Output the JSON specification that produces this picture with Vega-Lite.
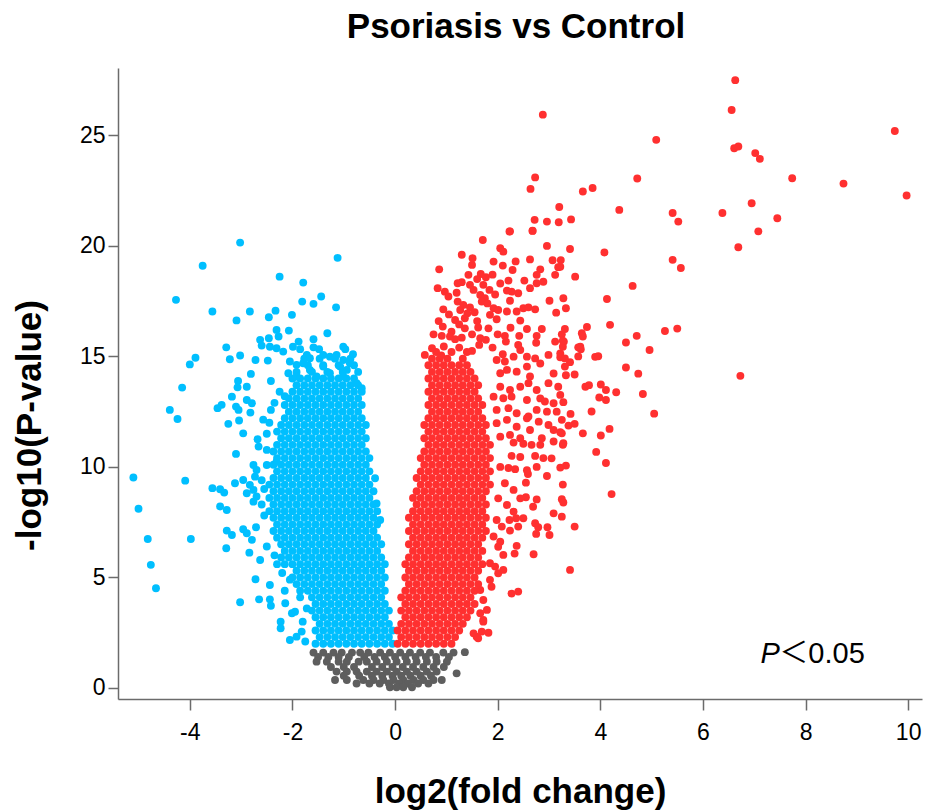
{
"$schema":"https://vega.github.io/schema/vega-lite/v6.json",
"width":804,"height":631,
"autosize":{"type":"none"},
"padding":{"left":118,"top":68,"right":4,"bottom":111},
"background":"white",
"config":{"view":{"stroke":null},"font":"Liberation Sans"},
"title":{"text":"Psoriasis vs Control","fontSize":35,"font":"Liberation Sans","fontWeight":"bold","color":"#000000","anchor":"middle","offset":23,"dx":-4},
"datasets":{
"ns":[
{"x":-1.59,"y":1.6},{"x":-1.4,"y":1.6},{"x":-1.2,"y":1.6},{"x":-1.04,"y":1.6},{"x":-0.84,"y":1.6},{"x":-0.68,"y":1.6},{"x":-0.52,"y":1.6},{"x":-0.29,"y":1.6},{"x":-0.1,"y":1.6},{"x":0.1,"y":1.6},{"x":0.29,"y":1.6},{"x":0.49,"y":1.6},{"x":0.68,"y":1.6},{"x":0.94,"y":1.6},{"x":1.14,"y":1.6},{"x":1.36,"y":1.62},
{"x":-1.5,"y":1.4},{"x":-1.3,"y":1.4},{"x":-1.1,"y":1.4},{"x":-0.9,"y":1.4},{"x":-0.6,"y":1.4},{"x":-0.4,"y":1.4},{"x":-0.2,"y":1.4},{"x":0,"y":1.4},{"x":0.2,"y":1.4},{"x":0.4,"y":1.4},{"x":0.6,"y":1.4},{"x":0.8,"y":1.4},{"x":1.05,"y":1.4},
{"x":-1.53,"y":1.19},{"x":-1.33,"y":1.19},{"x":-1.1,"y":1.19},{"x":-0.94,"y":1.19},{"x":-0.71,"y":1.19},{"x":-0.55,"y":1.19},{"x":-0.36,"y":1.19},{"x":-0.16,"y":1.19},{"x":0.03,"y":1.19},{"x":0.23,"y":1.19},{"x":0.42,"y":1.19},{"x":0.62,"y":1.19},{"x":0.81,"y":1.19},{"x":1.01,"y":1.19},
{"x":-1.25,"y":0.95},{"x":-1,"y":0.95},{"x":-0.8,"y":0.95},{"x":-0.45,"y":0.95},{"x":-0.25,"y":0.95},{"x":-0.05,"y":0.95},{"x":0.15,"y":0.95},{"x":0.35,"y":0.95},{"x":0.55,"y":0.95},{"x":0.75,"y":0.95},{"x":0.95,"y":0.95},
{"x":-1.14,"y":0.74},{"x":-0.94,"y":0.74},{"x":-0.75,"y":0.74},{"x":-0.55,"y":0.74},{"x":-0.36,"y":0.74},{"x":-0.16,"y":0.74},{"x":0.03,"y":0.74},{"x":0.23,"y":0.74},{"x":0.42,"y":0.74},{"x":0.62,"y":0.74},{"x":0.81,"y":0.74},{"x":1.2,"y":0.66},
{"x":-1,"y":0.55},{"x":-0.7,"y":0.55},{"x":-0.45,"y":0.55},{"x":-0.25,"y":0.55},{"x":-0.05,"y":0.55},{"x":0.12,"y":0.55},{"x":0.3,"y":0.55},{"x":0.5,"y":0.55},{"x":0.7,"y":0.55},
{"x":-1.17,"y":0.36},{"x":-0.94,"y":0.36},{"x":-0.62,"y":0.36},{"x":-0.42,"y":0.36},{"x":-0.23,"y":0.36},{"x":-0.03,"y":0.36},{"x":0.16,"y":0.36},{"x":0.36,"y":0.36},{"x":0.55,"y":0.36},{"x":0.75,"y":0.36},{"x":0.91,"y":0.36},
{"x":-0.75,"y":0.2},{"x":-0.5,"y":0.2},{"x":-0.3,"y":0.2},{"x":-0.12,"y":0.2},{"x":0.08,"y":0.2},{"x":0.25,"y":0.2},{"x":0.45,"y":0.2},{"x":0.65,"y":0.2},
{"x":-0.1,"y":0.03},{"x":0.03,"y":0.03},{"x":0.16,"y":0.03},{"x":0.33,"y":0.03}
],
"down":[
{"x":-0.05,"y":2},{"x":-0.2,"y":2},{"x":-0.35,"y":2},{"x":-0.5,"y":2},{"x":-0.65,"y":2},{"x":-0.8,"y":2},{"x":-0.95,"y":2},{"x":-1.1,"y":2},{"x":-1.25,"y":2},{"x":-1.4,"y":2},{"x":-1.55,"y":2},
{"x":-0.12,"y":2.3},{"x":-0.27,"y":2.3},{"x":-0.42,"y":2.3},{"x":-0.57,"y":2.3},{"x":-0.72,"y":2.3},{"x":-0.87,"y":2.3},{"x":-1.02,"y":2.3},{"x":-1.17,"y":2.3},{"x":-1.32,"y":2.3},{"x":-1.47,"y":2.3},
{"x":-0.05,"y":2.6},{"x":-0.2,"y":2.6},{"x":-0.35,"y":2.6},{"x":-0.5,"y":2.6},{"x":-0.65,"y":2.6},{"x":-0.8,"y":2.6},{"x":-0.95,"y":2.6},{"x":-1.1,"y":2.6},{"x":-1.25,"y":2.6},{"x":-1.4,"y":2.6},{"x":-1.55,"y":2.6},
{"x":-0.12,"y":2.9},{"x":-0.27,"y":2.9},{"x":-0.42,"y":2.9},{"x":-0.57,"y":2.9},{"x":-0.72,"y":2.9},{"x":-0.87,"y":2.9},{"x":-1.02,"y":2.9},{"x":-1.17,"y":2.9},{"x":-1.32,"y":2.9},{"x":-1.47,"y":2.9},
{"x":-0.2,"y":3.2},{"x":-0.35,"y":3.2},{"x":-0.5,"y":3.2},{"x":-0.65,"y":3.2},{"x":-0.8,"y":3.2},{"x":-0.95,"y":3.2},{"x":-1.1,"y":3.2},{"x":-1.25,"y":3.2},{"x":-1.4,"y":3.2},{"x":-1.55,"y":3.2},
{"x":-0.12,"y":3.5},{"x":-0.27,"y":3.5},{"x":-0.42,"y":3.5},{"x":-0.57,"y":3.5},{"x":-0.72,"y":3.5},{"x":-0.87,"y":3.5},{"x":-1.02,"y":3.5},{"x":-1.17,"y":3.5},{"x":-1.32,"y":3.5},{"x":-1.47,"y":3.5},{"x":-1.62,"y":3.5},
{"x":-0.2,"y":3.8},{"x":-0.35,"y":3.8},{"x":-0.5,"y":3.8},{"x":-0.65,"y":3.8},{"x":-0.8,"y":3.8},{"x":-0.95,"y":3.8},{"x":-1.1,"y":3.8},{"x":-1.25,"y":3.8},{"x":-1.4,"y":3.8},{"x":-1.55,"y":3.8},
{"x":-0.27,"y":4.1},{"x":-0.42,"y":4.1},{"x":-0.57,"y":4.1},{"x":-0.72,"y":4.1},{"x":-0.87,"y":4.1},{"x":-1.02,"y":4.1},{"x":-1.17,"y":4.1},{"x":-1.32,"y":4.1},{"x":-1.47,"y":4.1},{"x":-1.62,"y":4.1},
{"x":-0.2,"y":4.4},{"x":-0.35,"y":4.4},{"x":-0.5,"y":4.4},{"x":-0.65,"y":4.4},{"x":-0.8,"y":4.4},{"x":-0.95,"y":4.4},{"x":-1.1,"y":4.4},{"x":-1.25,"y":4.4},{"x":-1.4,"y":4.4},{"x":-1.55,"y":4.4},{"x":-1.7,"y":4.4},{"x":-1.85,"y":4.4},
{"x":-0.27,"y":4.7},{"x":-0.42,"y":4.7},{"x":-0.57,"y":4.7},{"x":-0.72,"y":4.7},{"x":-0.87,"y":4.7},{"x":-1.02,"y":4.7},{"x":-1.17,"y":4.7},{"x":-1.32,"y":4.7},{"x":-1.47,"y":4.7},{"x":-1.62,"y":4.7},{"x":-1.77,"y":4.7},{"x":-1.92,"y":4.7},
{"x":-0.2,"y":5},{"x":-0.35,"y":5},{"x":-0.5,"y":5},{"x":-0.65,"y":5},{"x":-0.8,"y":5},{"x":-0.95,"y":5},{"x":-1.1,"y":5},{"x":-1.25,"y":5},{"x":-1.4,"y":5},{"x":-1.55,"y":5},{"x":-1.7,"y":5},{"x":-1.85,"y":5},{"x":-2,"y":5},
{"x":-0.27,"y":5.3},{"x":-0.42,"y":5.3},{"x":-0.57,"y":5.3},{"x":-0.72,"y":5.3},{"x":-0.87,"y":5.3},{"x":-1.02,"y":5.3},{"x":-1.17,"y":5.3},{"x":-1.32,"y":5.3},{"x":-1.47,"y":5.3},{"x":-1.62,"y":5.3},{"x":-1.77,"y":5.3},{"x":-1.92,"y":5.3},
{"x":-0.2,"y":5.6},{"x":-0.35,"y":5.6},{"x":-0.5,"y":5.6},{"x":-0.65,"y":5.6},{"x":-0.8,"y":5.6},{"x":-0.95,"y":5.6},{"x":-1.1,"y":5.6},{"x":-1.25,"y":5.6},{"x":-1.4,"y":5.6},{"x":-1.55,"y":5.6},{"x":-1.7,"y":5.6},{"x":-1.85,"y":5.6},{"x":-2,"y":5.6},{"x":-2.15,"y":5.6},
{"x":-0.27,"y":5.9},{"x":-0.42,"y":5.9},{"x":-0.57,"y":5.9},{"x":-0.72,"y":5.9},{"x":-0.87,"y":5.9},{"x":-1.02,"y":5.9},{"x":-1.17,"y":5.9},{"x":-1.32,"y":5.9},{"x":-1.47,"y":5.9},{"x":-1.62,"y":5.9},{"x":-1.77,"y":5.9},{"x":-1.92,"y":5.9},{"x":-2.07,"y":5.9},{"x":-2.22,"y":5.9},
{"x":-0.35,"y":6.2},{"x":-0.5,"y":6.2},{"x":-0.65,"y":6.2},{"x":-0.8,"y":6.2},{"x":-0.95,"y":6.2},{"x":-1.1,"y":6.2},{"x":-1.25,"y":6.2},{"x":-1.4,"y":6.2},{"x":-1.55,"y":6.2},{"x":-1.7,"y":6.2},{"x":-1.85,"y":6.2},{"x":-2,"y":6.2},{"x":-2.15,"y":6.2},
{"x":-0.27,"y":6.5},{"x":-0.42,"y":6.5},{"x":-0.57,"y":6.5},{"x":-0.72,"y":6.5},{"x":-0.87,"y":6.5},{"x":-1.02,"y":6.5},{"x":-1.17,"y":6.5},{"x":-1.32,"y":6.5},{"x":-1.47,"y":6.5},{"x":-1.62,"y":6.5},{"x":-1.77,"y":6.5},{"x":-1.92,"y":6.5},{"x":-2.07,"y":6.5},{"x":-2.22,"y":6.5},
{"x":-0.35,"y":6.8},{"x":-0.5,"y":6.8},{"x":-0.65,"y":6.8},{"x":-0.8,"y":6.8},{"x":-0.95,"y":6.8},{"x":-1.1,"y":6.8},{"x":-1.25,"y":6.8},{"x":-1.4,"y":6.8},{"x":-1.55,"y":6.8},{"x":-1.7,"y":6.8},{"x":-1.85,"y":6.8},{"x":-2,"y":6.8},{"x":-2.15,"y":6.8},{"x":-2.3,"y":6.8},
{"x":-0.42,"y":7.1},{"x":-0.57,"y":7.1},{"x":-0.72,"y":7.1},{"x":-0.87,"y":7.1},{"x":-1.02,"y":7.1},{"x":-1.17,"y":7.1},{"x":-1.32,"y":7.1},{"x":-1.47,"y":7.1},{"x":-1.62,"y":7.1},{"x":-1.77,"y":7.1},{"x":-1.92,"y":7.1},{"x":-2.07,"y":7.1},{"x":-2.22,"y":7.1},{"x":-2.37,"y":7.1},
{"x":-0.35,"y":7.4},{"x":-0.5,"y":7.4},{"x":-0.65,"y":7.4},{"x":-0.8,"y":7.4},{"x":-0.95,"y":7.4},{"x":-1.1,"y":7.4},{"x":-1.25,"y":7.4},{"x":-1.4,"y":7.4},{"x":-1.55,"y":7.4},{"x":-1.7,"y":7.4},{"x":-1.85,"y":7.4},{"x":-2,"y":7.4},{"x":-2.15,"y":7.4},{"x":-2.3,"y":7.4},
{"x":-0.42,"y":7.7},{"x":-0.57,"y":7.7},{"x":-0.72,"y":7.7},{"x":-0.87,"y":7.7},{"x":-1.02,"y":7.7},{"x":-1.17,"y":7.7},{"x":-1.32,"y":7.7},{"x":-1.47,"y":7.7},{"x":-1.62,"y":7.7},{"x":-1.77,"y":7.7},{"x":-1.92,"y":7.7},{"x":-2.07,"y":7.7},{"x":-2.22,"y":7.7},{"x":-2.37,"y":7.7},
{"x":-0.35,"y":8},{"x":-0.5,"y":8},{"x":-0.65,"y":8},{"x":-0.8,"y":8},{"x":-0.95,"y":8},{"x":-1.1,"y":8},{"x":-1.25,"y":8},{"x":-1.4,"y":8},{"x":-1.55,"y":8},{"x":-1.7,"y":8},{"x":-1.85,"y":8},{"x":-2,"y":8},{"x":-2.15,"y":8},{"x":-2.3,"y":8},{"x":-2.45,"y":8},
{"x":-0.42,"y":8.3},{"x":-0.57,"y":8.3},{"x":-0.72,"y":8.3},{"x":-0.87,"y":8.3},{"x":-1.02,"y":8.3},{"x":-1.17,"y":8.3},{"x":-1.32,"y":8.3},{"x":-1.47,"y":8.3},{"x":-1.62,"y":8.3},{"x":-1.77,"y":8.3},{"x":-1.92,"y":8.3},{"x":-2.07,"y":8.3},{"x":-2.22,"y":8.3},{"x":-2.37,"y":8.3},
{"x":-0.5,"y":8.6},{"x":-0.65,"y":8.6},{"x":-0.8,"y":8.6},{"x":-0.95,"y":8.6},{"x":-1.1,"y":8.6},{"x":-1.25,"y":8.6},{"x":-1.4,"y":8.6},{"x":-1.55,"y":8.6},{"x":-1.7,"y":8.6},{"x":-1.85,"y":8.6},{"x":-2,"y":8.6},{"x":-2.15,"y":8.6},{"x":-2.3,"y":8.6},{"x":-2.45,"y":8.6},
{"x":-0.42,"y":8.9},{"x":-0.57,"y":8.9},{"x":-0.72,"y":8.9},{"x":-0.87,"y":8.9},{"x":-1.02,"y":8.9},{"x":-1.17,"y":8.9},{"x":-1.32,"y":8.9},{"x":-1.47,"y":8.9},{"x":-1.62,"y":8.9},{"x":-1.77,"y":8.9},{"x":-1.92,"y":8.9},{"x":-2.07,"y":8.9},{"x":-2.22,"y":8.9},{"x":-2.37,"y":8.9},
{"x":-0.5,"y":9.2},{"x":-0.65,"y":9.2},{"x":-0.8,"y":9.2},{"x":-0.95,"y":9.2},{"x":-1.1,"y":9.2},{"x":-1.25,"y":9.2},{"x":-1.4,"y":9.2},{"x":-1.55,"y":9.2},{"x":-1.7,"y":9.2},{"x":-1.85,"y":9.2},{"x":-2,"y":9.2},{"x":-2.15,"y":9.2},{"x":-2.3,"y":9.2},{"x":-2.45,"y":9.2},
{"x":-0.57,"y":9.5},{"x":-0.72,"y":9.5},{"x":-0.87,"y":9.5},{"x":-1.02,"y":9.5},{"x":-1.17,"y":9.5},{"x":-1.32,"y":9.5},{"x":-1.47,"y":9.5},{"x":-1.62,"y":9.5},{"x":-1.77,"y":9.5},{"x":-1.92,"y":9.5},{"x":-2.07,"y":9.5},{"x":-2.22,"y":9.5},{"x":-2.37,"y":9.5},
{"x":-0.5,"y":9.8},{"x":-0.65,"y":9.8},{"x":-0.8,"y":9.8},{"x":-0.95,"y":9.8},{"x":-1.1,"y":9.8},{"x":-1.25,"y":9.8},{"x":-1.4,"y":9.8},{"x":-1.55,"y":9.8},{"x":-1.7,"y":9.8},{"x":-1.85,"y":9.8},{"x":-2,"y":9.8},{"x":-2.15,"y":9.8},{"x":-2.3,"y":9.8},
{"x":-0.57,"y":10.1},{"x":-0.72,"y":10.1},{"x":-0.87,"y":10.1},{"x":-1.02,"y":10.1},{"x":-1.17,"y":10.1},{"x":-1.32,"y":10.1},{"x":-1.47,"y":10.1},{"x":-1.62,"y":10.1},{"x":-1.77,"y":10.1},{"x":-1.92,"y":10.1},{"x":-2.07,"y":10.1},{"x":-2.22,"y":10.1},{"x":-2.37,"y":10.1},
{"x":-0.5,"y":10.4},{"x":-0.65,"y":10.4},{"x":-0.8,"y":10.4},{"x":-0.95,"y":10.4},{"x":-1.1,"y":10.4},{"x":-1.25,"y":10.4},{"x":-1.4,"y":10.4},{"x":-1.55,"y":10.4},{"x":-1.7,"y":10.4},{"x":-1.85,"y":10.4},{"x":-2,"y":10.4},{"x":-2.15,"y":10.4},{"x":-2.3,"y":10.4},
{"x":-0.57,"y":10.7},{"x":-0.72,"y":10.7},{"x":-0.87,"y":10.7},{"x":-1.02,"y":10.7},{"x":-1.17,"y":10.7},{"x":-1.32,"y":10.7},{"x":-1.47,"y":10.7},{"x":-1.62,"y":10.7},{"x":-1.77,"y":10.7},{"x":-1.92,"y":10.7},{"x":-2.07,"y":10.7},{"x":-2.22,"y":10.7},{"x":-2.37,"y":10.7},
{"x":-0.65,"y":11},{"x":-0.8,"y":11},{"x":-0.95,"y":11},{"x":-1.1,"y":11},{"x":-1.25,"y":11},{"x":-1.4,"y":11},{"x":-1.55,"y":11},{"x":-1.7,"y":11},{"x":-1.85,"y":11},{"x":-2,"y":11},{"x":-2.15,"y":11},{"x":-2.3,"y":11},
{"x":-0.57,"y":11.3},{"x":-0.72,"y":11.3},{"x":-0.87,"y":11.3},{"x":-1.02,"y":11.3},{"x":-1.17,"y":11.3},{"x":-1.32,"y":11.3},{"x":-1.47,"y":11.3},{"x":-1.62,"y":11.3},{"x":-1.77,"y":11.3},{"x":-1.92,"y":11.3},{"x":-2.07,"y":11.3},{"x":-2.22,"y":11.3},
{"x":-0.65,"y":11.6},{"x":-0.8,"y":11.6},{"x":-0.95,"y":11.6},{"x":-1.1,"y":11.6},{"x":-1.25,"y":11.6},{"x":-1.4,"y":11.6},{"x":-1.55,"y":11.6},{"x":-1.7,"y":11.6},{"x":-1.85,"y":11.6},{"x":-2,"y":11.6},{"x":-2.15,"y":11.6},{"x":-2.3,"y":11.6},
{"x":-0.57,"y":11.9},{"x":-0.72,"y":11.9},{"x":-0.87,"y":11.9},{"x":-1.02,"y":11.9},{"x":-1.17,"y":11.9},{"x":-1.32,"y":11.9},{"x":-1.47,"y":11.9},{"x":-1.62,"y":11.9},{"x":-1.77,"y":11.9},{"x":-1.92,"y":11.9},{"x":-2.07,"y":11.9},{"x":-2.22,"y":11.9},
{"x":-0.65,"y":12.2},{"x":-0.8,"y":12.2},{"x":-0.95,"y":12.2},{"x":-1.1,"y":12.2},{"x":-1.25,"y":12.2},{"x":-1.4,"y":12.2},{"x":-1.55,"y":12.2},{"x":-1.7,"y":12.2},{"x":-1.85,"y":12.2},{"x":-2,"y":12.2},{"x":-2.15,"y":12.2},
{"x":-0.72,"y":12.5},{"x":-0.87,"y":12.5},{"x":-1.02,"y":12.5},{"x":-1.17,"y":12.5},{"x":-1.32,"y":12.5},{"x":-1.47,"y":12.5},{"x":-1.62,"y":12.5},{"x":-1.77,"y":12.5},{"x":-1.92,"y":12.5},{"x":-2.07,"y":12.5},
{"x":-0.65,"y":12.8},{"x":-0.8,"y":12.8},{"x":-0.95,"y":12.8},{"x":-1.1,"y":12.8},{"x":-1.25,"y":12.8},{"x":-1.4,"y":12.8},{"x":-1.55,"y":12.8},{"x":-1.7,"y":12.8},{"x":-1.85,"y":12.8},{"x":-2,"y":12.8},{"x":-2.15,"y":12.8},
{"x":-0.72,"y":13.1},{"x":-0.87,"y":13.1},{"x":-1.02,"y":13.1},{"x":-1.17,"y":13.1},{"x":-1.32,"y":13.1},{"x":-1.47,"y":13.1},{"x":-1.62,"y":13.1},{"x":-1.77,"y":13.1},{"x":-1.92,"y":13.1},{"x":-2.07,"y":13.1},
{"x":-0.65,"y":13.4},{"x":-0.8,"y":13.4},{"x":-0.95,"y":13.4},{"x":-1.1,"y":13.4},{"x":-1.25,"y":13.4},{"x":-1.4,"y":13.4},{"x":-1.55,"y":13.4},{"x":-1.7,"y":13.4},{"x":-1.85,"y":13.4},{"x":-2,"y":13.4},
{"x":-0.72,"y":13.7},{"x":-0.87,"y":13.7},{"x":-1.02,"y":13.7},{"x":-1.17,"y":13.7},{"x":-1.32,"y":13.7},{"x":-1.47,"y":13.7},{"x":-1.62,"y":13.7},{"x":-1.77,"y":13.7},{"x":-1.92,"y":13.7},
{"x":-0.8,"y":14},{"x":-0.95,"y":14},{"x":-1.1,"y":14},{"x":-1.25,"y":14},{"x":-1.4,"y":14},{"x":-1.55,"y":14},{"x":-1.7,"y":14},{"x":-1.85,"y":14},{"x":-2,"y":14},
{"x":-0.72,"y":14.3},{"x":-1.02,"y":14.3},{"x":-1.32,"y":14.3},{"x":-1.62,"y":14.3},{"x":-1.92,"y":14.3},
{"x":-0.8,"y":14.6},{"x":-1.1,"y":14.6},{"x":-1.4,"y":14.6},{"x":-1.7,"y":14.6},
{"x":-0.87,"y":14.9},{"x":-1.17,"y":14.9},{"x":-1.47,"y":14.9},{"x":-1.77,"y":14.9},
{"x":-3.02,"y":20.15},{"x":-1.12,"y":19.46},{"x":-3.75,"y":19.1},{"x":-2.25,"y":18.61},{"x":-1.79,"y":18.34},{"x":-4.27,"y":17.56},{"x":-1.81,"y":17.48},{"x":-1.59,"y":17.38},{"x":-1.44,"y":17.71},{"x":-1.15,"y":17.22},{"x":-3.56,"y":17.03},{"x":-2.83,"y":17.03},{"x":-3.09,"y":16.63},{"x":-2.33,"y":17.07},{"x":-2.46,"y":16.77},{"x":-2.01,"y":16.88},{"x":-2.31,"y":16.2},{"x":-2.07,"y":16.17},{"x":-2.27,"y":15.9},{"x":-1.32,"y":16.05},{"x":-2.63,"y":15.75},{"x":-2.6,"y":15.49},{"x":-2.46,"y":15.82},{"x":-3.29,"y":15.41},{"x":-3.02,"y":15.04},{"x":-3.22,"y":14.87},{"x":-2.72,"y":14.84},{"x":-2.48,"y":14.81},{"x":-3.89,"y":14.94},{"x":-4,"y":14.64},{"x":-2.81,"y":14.21},{"x":-3.06,"y":13.89},{"x":-3.07,"y":13.6},{"x":-2.89,"y":13.63},{"x":-2.42,"y":13.89},{"x":-4.15,"y":13.59},{"x":-3.18,"y":13.18},{"x":-3.38,"y":12.81},{"x":-3.46,"y":12.66},{"x":-3.1,"y":12.73},{"x":-3.05,"y":12.58},{"x":-2.89,"y":13.03},{"x":-2.79,"y":12.88},{"x":-2.82,"y":12.46},{"x":-4.39,"y":12.58},{"x":-4.24,"y":12.17},{"x":-3.25,"y":11.95},{"x":-3.04,"y":12.1},{"x":-2.96,"y":11.52},{"x":-2.57,"y":12.14},{"x":-2.68,"y":11.25},{"x":-2.42,"y":12.58},
{"x":-2.44,"y":15.44},{"x":-2.31,"y":15.37},{"x":-2.18,"y":15.22},{"x":-1.99,"y":15.44},{"x":-1.88,"y":15.67},{"x":-1.85,"y":15.33},{"x":-1.59,"y":15.78},{"x":-1.59,"y":15.41},{"x":-1.48,"y":15.33},{"x":-1.01,"y":15.44},{"x":-0.97,"y":15.33},{"x":-0.82,"y":15.1},{"x":-1.72,"y":15.07},{"x":-1.66,"y":14.92},{"x":-1.4,"y":15.07},{"x":-1.27,"y":14.99},{"x":-1.14,"y":15.07},{"x":-1.01,"y":14.84},{"x":-0.88,"y":14.69},{"x":-2.05,"y":14.77},{"x":-1.92,"y":14.62},{"x":-1.79,"y":14.69},{"x":-1.4,"y":14.54},{"x":-1.07,"y":14.54},{"x":-0.94,"y":14.39},{"x":-2.08,"y":14.24},{"x":-1.92,"y":14.09},{"x":-1.66,"y":14.39},{"x":-1.53,"y":14.09},{"x":-1.27,"y":14.24},{"x":-1.01,"y":14.09},{"x":-0.75,"y":13.79},{"x":-0.65,"y":13.56},
{"x":-5.1,"y":9.52},{"x":-4.09,"y":9.38},{"x":-5,"y":8.11},{"x":-4.82,"y":6.74},{"x":-3.98,"y":6.74},{"x":-4.76,"y":5.57},{"x":-4.66,"y":4.51},{"x":-3.1,"y":10.59},{"x":-3.02,"y":3.88},{"x":-3.56,"y":9.04},{"x":-3.41,"y":8.99},{"x":-3.33,"y":8.84},{"x":-3.12,"y":9.26},{"x":-2.96,"y":9.41},{"x":-3.41,"y":8.21},{"x":-3.28,"y":8.05},{"x":-3.28,"y":7.12},{"x":-3.18,"y":6.92},{"x":-2.96,"y":7.18},{"x":-2.89,"y":7},{"x":-2.79,"y":6.7},{"x":-3.29,"y":6.32},{"x":-2.84,"y":6.12},{"x":-2.71,"y":7.27},{"x":-2.63,"y":5.79},{"x":-2.72,"y":4.92},{"x":-2.65,"y":4.01},{"x":-2.44,"y":4.01},{"x":-2.42,"y":3.72},{"x":-2.44,"y":4.66},{"x":-2.23,"y":3},{"x":-2.23,"y":2.7},{"x":-2.05,"y":2.17},{"x":-1.92,"y":2.32},{"x":-1.82,"y":2.55},{"x":-2.14,"y":3.83},{"x":-2.01,"y":3.38},{"x":-1.95,"y":3.45},{"x":-2.76,"y":10.09},{"x":-2.7,"y":9.86},{"x":-2.73,"y":9.56},{"x":-2.5,"y":10.09},{"x":-2.31,"y":10.24},{"x":-2.89,"y":8.81},{"x":-2.76,"y":8.96},{"x":-2.7,"y":8.66},{"x":-2.76,"y":8.43},{"x":-2.83,"y":9.19},{"x":-2.66,"y":10.92},{"x":-2.5,"y":10.77},{"x":-0.39,"y":9.49},{"x":-0.36,"y":8.35},{"x":-0.29,"y":7.6},
{"x":-2.2,"y":5.2},{"x":-2.3,"y":5.6},{"x":-2.15,"y":4.4},{"x":-2.05,"y":4.9},{"x":-2.35,"y":6},{"x":-2.5,"y":6.4},{"x":-2.55,"y":7.8},{"x":-2.6,"y":8.3},{"x":-2.55,"y":9},{"x":-2.6,"y":9.4},{"x":-2.5,"y":11.5},{"x":-2.45,"y":12},{"x":-2.35,"y":12.9},{"x":-2.25,"y":13.4},{"x":-2.15,"y":13.2},{"x":-1.8,"y":3},{"x":-1.75,"y":2.1},{"x":-1.85,"y":4.1},{"x":-1.72,"y":3.6}
],
"up":[
{"x":0.05,"y":2},{"x":0.2,"y":2},{"x":0.35,"y":2},{"x":0.5,"y":2},{"x":0.65,"y":2},{"x":0.8,"y":2},{"x":0.95,"y":2},{"x":1.1,"y":2},
{"x":0.12,"y":2.3},{"x":0.27,"y":2.3},{"x":0.42,"y":2.3},{"x":0.57,"y":2.3},{"x":0.72,"y":2.3},{"x":0.87,"y":2.3},{"x":1.02,"y":2.3},{"x":1.17,"y":2.3},
{"x":0.05,"y":2.6},{"x":0.2,"y":2.6},{"x":0.35,"y":2.6},{"x":0.5,"y":2.6},{"x":0.65,"y":2.6},{"x":0.8,"y":2.6},{"x":0.95,"y":2.6},{"x":1.1,"y":2.6},{"x":1.25,"y":2.6},
{"x":0.12,"y":2.9},{"x":0.27,"y":2.9},{"x":0.42,"y":2.9},{"x":0.57,"y":2.9},{"x":0.72,"y":2.9},{"x":0.87,"y":2.9},{"x":1.02,"y":2.9},{"x":1.17,"y":2.9},{"x":1.32,"y":2.9},
{"x":0.2,"y":3.2},{"x":0.35,"y":3.2},{"x":0.5,"y":3.2},{"x":0.65,"y":3.2},{"x":0.8,"y":3.2},{"x":0.95,"y":3.2},{"x":1.1,"y":3.2},{"x":1.25,"y":3.2},{"x":1.4,"y":3.2},
{"x":0.12,"y":3.5},{"x":0.27,"y":3.5},{"x":0.42,"y":3.5},{"x":0.57,"y":3.5},{"x":0.72,"y":3.5},{"x":0.87,"y":3.5},{"x":1.02,"y":3.5},{"x":1.17,"y":3.5},{"x":1.32,"y":3.5},{"x":1.47,"y":3.5},
{"x":0.2,"y":3.8},{"x":0.35,"y":3.8},{"x":0.5,"y":3.8},{"x":0.65,"y":3.8},{"x":0.8,"y":3.8},{"x":0.95,"y":3.8},{"x":1.1,"y":3.8},{"x":1.25,"y":3.8},{"x":1.4,"y":3.8},{"x":1.55,"y":3.8},
{"x":0.12,"y":4.1},{"x":0.27,"y":4.1},{"x":0.42,"y":4.1},{"x":0.57,"y":4.1},{"x":0.72,"y":4.1},{"x":0.87,"y":4.1},{"x":1.02,"y":4.1},{"x":1.17,"y":4.1},{"x":1.32,"y":4.1},{"x":1.47,"y":4.1},
{"x":0.2,"y":4.4},{"x":0.35,"y":4.4},{"x":0.5,"y":4.4},{"x":0.65,"y":4.4},{"x":0.8,"y":4.4},{"x":0.95,"y":4.4},{"x":1.1,"y":4.4},{"x":1.25,"y":4.4},{"x":1.4,"y":4.4},{"x":1.55,"y":4.4},
{"x":0.27,"y":4.7},{"x":0.42,"y":4.7},{"x":0.57,"y":4.7},{"x":0.72,"y":4.7},{"x":0.87,"y":4.7},{"x":1.02,"y":4.7},{"x":1.17,"y":4.7},{"x":1.32,"y":4.7},{"x":1.47,"y":4.7},{"x":1.62,"y":4.7},
{"x":0.2,"y":5},{"x":0.35,"y":5},{"x":0.5,"y":5},{"x":0.65,"y":5},{"x":0.8,"y":5},{"x":0.95,"y":5},{"x":1.1,"y":5},{"x":1.25,"y":5},{"x":1.4,"y":5},{"x":1.55,"y":5},
{"x":0.27,"y":5.3},{"x":0.42,"y":5.3},{"x":0.57,"y":5.3},{"x":0.72,"y":5.3},{"x":0.87,"y":5.3},{"x":1.02,"y":5.3},{"x":1.17,"y":5.3},{"x":1.32,"y":5.3},{"x":1.47,"y":5.3},{"x":1.62,"y":5.3},
{"x":0.2,"y":5.6},{"x":0.35,"y":5.6},{"x":0.5,"y":5.6},{"x":0.65,"y":5.6},{"x":0.8,"y":5.6},{"x":0.95,"y":5.6},{"x":1.1,"y":5.6},{"x":1.25,"y":5.6},{"x":1.4,"y":5.6},{"x":1.55,"y":5.6},{"x":1.7,"y":5.6},
{"x":0.27,"y":5.9},{"x":0.42,"y":5.9},{"x":0.57,"y":5.9},{"x":0.72,"y":5.9},{"x":0.87,"y":5.9},{"x":1.02,"y":5.9},{"x":1.17,"y":5.9},{"x":1.32,"y":5.9},{"x":1.47,"y":5.9},{"x":1.62,"y":5.9},
{"x":0.35,"y":6.2},{"x":0.5,"y":6.2},{"x":0.65,"y":6.2},{"x":0.8,"y":6.2},{"x":0.95,"y":6.2},{"x":1.1,"y":6.2},{"x":1.25,"y":6.2},{"x":1.4,"y":6.2},{"x":1.55,"y":6.2},{"x":1.7,"y":6.2},
{"x":0.27,"y":6.5},{"x":0.42,"y":6.5},{"x":0.57,"y":6.5},{"x":0.72,"y":6.5},{"x":0.87,"y":6.5},{"x":1.02,"y":6.5},{"x":1.17,"y":6.5},{"x":1.32,"y":6.5},{"x":1.47,"y":6.5},{"x":1.62,"y":6.5},
{"x":0.35,"y":6.8},{"x":0.5,"y":6.8},{"x":0.65,"y":6.8},{"x":0.8,"y":6.8},{"x":0.95,"y":6.8},{"x":1.1,"y":6.8},{"x":1.25,"y":6.8},{"x":1.4,"y":6.8},{"x":1.55,"y":6.8},{"x":1.7,"y":6.8},
{"x":0.27,"y":7.1},{"x":0.42,"y":7.1},{"x":0.57,"y":7.1},{"x":0.72,"y":7.1},{"x":0.87,"y":7.1},{"x":1.02,"y":7.1},{"x":1.17,"y":7.1},{"x":1.32,"y":7.1},{"x":1.47,"y":7.1},{"x":1.62,"y":7.1},{"x":1.77,"y":7.1},
{"x":0.35,"y":7.4},{"x":0.5,"y":7.4},{"x":0.65,"y":7.4},{"x":0.8,"y":7.4},{"x":0.95,"y":7.4},{"x":1.1,"y":7.4},{"x":1.25,"y":7.4},{"x":1.4,"y":7.4},{"x":1.55,"y":7.4},{"x":1.7,"y":7.4},
{"x":0.27,"y":7.7},{"x":0.42,"y":7.7},{"x":0.57,"y":7.7},{"x":0.72,"y":7.7},{"x":0.87,"y":7.7},{"x":1.02,"y":7.7},{"x":1.17,"y":7.7},{"x":1.32,"y":7.7},{"x":1.47,"y":7.7},{"x":1.62,"y":7.7},{"x":1.77,"y":7.7},
{"x":0.35,"y":8},{"x":0.5,"y":8},{"x":0.65,"y":8},{"x":0.8,"y":8},{"x":0.95,"y":8},{"x":1.1,"y":8},{"x":1.25,"y":8},{"x":1.4,"y":8},{"x":1.55,"y":8},{"x":1.7,"y":8},
{"x":0.42,"y":8.3},{"x":0.57,"y":8.3},{"x":0.72,"y":8.3},{"x":0.87,"y":8.3},{"x":1.02,"y":8.3},{"x":1.17,"y":8.3},{"x":1.32,"y":8.3},{"x":1.47,"y":8.3},{"x":1.62,"y":8.3},{"x":1.77,"y":8.3},
{"x":0.35,"y":8.6},{"x":0.5,"y":8.6},{"x":0.65,"y":8.6},{"x":0.8,"y":8.6},{"x":0.95,"y":8.6},{"x":1.1,"y":8.6},{"x":1.25,"y":8.6},{"x":1.4,"y":8.6},{"x":1.55,"y":8.6},{"x":1.7,"y":8.6},
{"x":0.42,"y":8.9},{"x":0.57,"y":8.9},{"x":0.72,"y":8.9},{"x":0.87,"y":8.9},{"x":1.02,"y":8.9},{"x":1.17,"y":8.9},{"x":1.32,"y":8.9},{"x":1.47,"y":8.9},{"x":1.62,"y":8.9},{"x":1.77,"y":8.9},
{"x":0.5,"y":9.2},{"x":0.65,"y":9.2},{"x":0.8,"y":9.2},{"x":0.95,"y":9.2},{"x":1.1,"y":9.2},{"x":1.25,"y":9.2},{"x":1.4,"y":9.2},{"x":1.55,"y":9.2},{"x":1.7,"y":9.2},{"x":1.85,"y":9.2},
{"x":0.42,"y":9.5},{"x":0.57,"y":9.5},{"x":0.72,"y":9.5},{"x":0.87,"y":9.5},{"x":1.02,"y":9.5},{"x":1.17,"y":9.5},{"x":1.32,"y":9.5},{"x":1.47,"y":9.5},{"x":1.62,"y":9.5},{"x":1.77,"y":9.5},
{"x":0.5,"y":9.8},{"x":0.65,"y":9.8},{"x":0.8,"y":9.8},{"x":0.95,"y":9.8},{"x":1.1,"y":9.8},{"x":1.25,"y":9.8},{"x":1.4,"y":9.8},{"x":1.55,"y":9.8},{"x":1.7,"y":9.8},{"x":1.85,"y":9.8},
{"x":0.57,"y":10.1},{"x":0.72,"y":10.1},{"x":0.87,"y":10.1},{"x":1.02,"y":10.1},{"x":1.17,"y":10.1},{"x":1.32,"y":10.1},{"x":1.47,"y":10.1},{"x":1.62,"y":10.1},{"x":1.77,"y":10.1},
{"x":0.5,"y":10.4},{"x":0.65,"y":10.4},{"x":0.8,"y":10.4},{"x":0.95,"y":10.4},{"x":1.1,"y":10.4},{"x":1.25,"y":10.4},{"x":1.4,"y":10.4},{"x":1.55,"y":10.4},{"x":1.7,"y":10.4},{"x":1.85,"y":10.4},
{"x":0.57,"y":10.7},{"x":0.72,"y":10.7},{"x":0.87,"y":10.7},{"x":1.02,"y":10.7},{"x":1.17,"y":10.7},{"x":1.32,"y":10.7},{"x":1.47,"y":10.7},{"x":1.62,"y":10.7},{"x":1.77,"y":10.7},
{"x":0.65,"y":11},{"x":0.8,"y":11},{"x":0.95,"y":11},{"x":1.1,"y":11},{"x":1.25,"y":11},{"x":1.4,"y":11},{"x":1.55,"y":11},{"x":1.7,"y":11},{"x":1.85,"y":11},
{"x":0.57,"y":11.3},{"x":0.72,"y":11.3},{"x":0.87,"y":11.3},{"x":1.02,"y":11.3},{"x":1.17,"y":11.3},{"x":1.32,"y":11.3},{"x":1.47,"y":11.3},{"x":1.62,"y":11.3},{"x":1.77,"y":11.3},
{"x":0.65,"y":11.6},{"x":0.8,"y":11.6},{"x":0.95,"y":11.6},{"x":1.1,"y":11.6},{"x":1.25,"y":11.6},{"x":1.4,"y":11.6},{"x":1.55,"y":11.6},{"x":1.7,"y":11.6},
{"x":0.57,"y":11.9},{"x":0.72,"y":11.9},{"x":0.87,"y":11.9},{"x":1.02,"y":11.9},{"x":1.17,"y":11.9},{"x":1.32,"y":11.9},{"x":1.47,"y":11.9},{"x":1.62,"y":11.9},{"x":1.77,"y":11.9},
{"x":0.65,"y":12.2},{"x":0.8,"y":12.2},{"x":0.95,"y":12.2},{"x":1.1,"y":12.2},{"x":1.25,"y":12.2},{"x":1.4,"y":12.2},{"x":1.55,"y":12.2},{"x":1.7,"y":12.2},
{"x":0.72,"y":12.5},{"x":0.87,"y":12.5},{"x":1.02,"y":12.5},{"x":1.17,"y":12.5},{"x":1.32,"y":12.5},{"x":1.47,"y":12.5},{"x":1.62,"y":12.5},
{"x":0.65,"y":12.8},{"x":0.8,"y":12.8},{"x":0.95,"y":12.8},{"x":1.1,"y":12.8},{"x":1.25,"y":12.8},{"x":1.4,"y":12.8},{"x":1.55,"y":12.8},{"x":1.7,"y":12.8},
{"x":0.72,"y":13.1},{"x":0.87,"y":13.1},{"x":1.02,"y":13.1},{"x":1.17,"y":13.1},{"x":1.32,"y":13.1},{"x":1.47,"y":13.1},{"x":1.62,"y":13.1},
{"x":0.65,"y":13.4},{"x":0.8,"y":13.4},{"x":0.95,"y":13.4},{"x":1.1,"y":13.4},{"x":1.25,"y":13.4},{"x":1.4,"y":13.4},{"x":1.55,"y":13.4},
{"x":0.72,"y":13.7},{"x":0.87,"y":13.7},{"x":1.02,"y":13.7},{"x":1.17,"y":13.7},{"x":1.32,"y":13.7},{"x":1.47,"y":13.7},{"x":1.62,"y":13.7},
{"x":0.65,"y":14},{"x":0.8,"y":14},{"x":0.95,"y":14},{"x":1.1,"y":14},{"x":1.25,"y":14},{"x":1.4,"y":14},{"x":1.55,"y":14},
{"x":0.72,"y":14.3},{"x":0.87,"y":14.3},{"x":1.02,"y":14.3},{"x":1.17,"y":14.3},{"x":1.32,"y":14.3},{"x":1.47,"y":14.3},
{"x":0.65,"y":14.6},{"x":0.8,"y":14.6},{"x":0.95,"y":14.6},{"x":1.1,"y":14.6},{"x":1.25,"y":14.6},{"x":1.4,"y":14.6},
{"x":0.72,"y":14.9},{"x":0.87,"y":14.9},{"x":1.02,"y":14.9},{"x":1.32,"y":14.9},
{"x":0.8,"y":15.2},{"x":1.1,"y":15.2},{"x":1.4,"y":15.2},
{"x":6.63,"y":27.5},{"x":2.88,"y":25.94},{"x":6.56,"y":26.15},{"x":9.74,"y":25.2},{"x":5.09,"y":24.8},{"x":6.61,"y":24.42},{"x":6.69,"y":24.5},{"x":7.02,"y":24.2},{"x":7.11,"y":23.94},{"x":2.73,"y":23.1},{"x":2.64,"y":22.58},{"x":3.66,"y":22.46},{"x":3.85,"y":22.62},{"x":4.72,"y":23.05},{"x":7.74,"y":23.06},{"x":8.74,"y":22.82},{"x":9.97,"y":22.28},{"x":3.2,"y":21.76},{"x":4.37,"y":21.63},{"x":2.72,"y":21.18},{"x":2.96,"y":21.1},{"x":3.19,"y":21.07},{"x":3.43,"y":21.2},{"x":2.68,"y":20.69},{"x":2.24,"y":20.66},{"x":5.41,"y":21.49},{"x":5.52,"y":21.1},{"x":6.38,"y":21.49},{"x":6.95,"y":21.93},{"x":7.45,"y":21.25},{"x":7.08,"y":20.66},{"x":6.69,"y":19.94},{"x":2.96,"y":20},{"x":3.41,"y":19.86},{"x":4.08,"y":19.7},{"x":2.05,"y":19.9},{"x":2.11,"y":19.74},{"x":2.63,"y":19.39},{"x":3.07,"y":19.35},{"x":3.23,"y":19.36},{"x":5.41,"y":19.37},{"x":3.22,"y":19.06},{"x":5.57,"y":19},{"x":3.51,"y":18.61},{"x":4.63,"y":18.19},{"x":3.28,"y":17.63},{"x":3.33,"y":17.18},{"x":4.13,"y":17.6},{"x":4.19,"y":16.43},{"x":3.74,"y":16.33},{"x":3.31,"y":16.24},{"x":3.64,"y":16.05},{"x":3.66,"y":15.9},{"x":5.26,"y":16.15},{"x":5.5,"y":16.26},{"x":4.71,"y":15.93},{"x":4.5,"y":15.63},{"x":4.96,"y":15.29},{"x":3.29,"y":15.67},{"x":3.27,"y":15.44},{"x":3.57,"y":15.41},{"x":3.62,"y":15.32},{"x":3.9,"y":14.98},{"x":3.96,"y":15.01},{"x":3.22,"y":14.96},{"x":3.57,"y":15},{"x":3.41,"y":14.74},{"x":3.31,"y":14.54},{"x":4.5,"y":14.5},{"x":4.74,"y":14.22},{"x":6.73,"y":14.12},{"x":3.33,"y":14.15},{"x":3.5,"y":14.18},{"x":3.71,"y":13.63},{"x":3.78,"y":13.7},{"x":4.01,"y":13.73},{"x":4.11,"y":13.48},{"x":4.31,"y":13.38},{"x":4.83,"y":13.3},{"x":3.98,"y":13.14},{"x":4.11,"y":13.03},{"x":3.22,"y":13.26},{"x":3.28,"y":12.93},{"x":3.83,"y":12.51},{"x":5.05,"y":12.41},{"x":3.42,"y":12.4},{"x":3.25,"y":12.13},{"x":3.38,"y":11.87},{"x":3.5,"y":11.95},{"x":3.22,"y":11.57},{"x":3.66,"y":11.52},{"x":4.01,"y":11.42},{"x":4.18,"y":11.72},{"x":3.27,"y":11},{"x":3.92,"y":10.68},{"x":4.11,"y":10.18},{"x":3.33,"y":10.06},{"x":3.22,"y":9.97},{"x":3.27,"y":9.2},{"x":4.22,"y":8.77},{"x":3.25,"y":8.54},{"x":3.28,"y":8.39},{"x":3.25,"y":7.75},{"x":3.5,"y":7.3},{"x":3.41,"y":5.34},
{"x":3.05,"y":10.39},{"x":3.09,"y":11.15},{"x":2.7,"y":6.05},{"x":2.33,"y":6.08},{"x":2.27,"y":4.27},{"x":2.4,"y":4.36},{"x":2.75,"y":6.97},{"x":3.01,"y":6.92},{"x":2.97,"y":7.27},{"x":2.76,"y":8.53},{"x":2.55,"y":8.63},{"x":2.69,"y":8.2},{"x":2.55,"y":9.29},{"x":2.59,"y":9.68},{"x":2.96,"y":9.59},{"x":3.09,"y":7.9},{"x":2.4,"y":7.3},{"x":2.24,"y":7.12},{"x":2.05,"y":6.62},{"x":2.37,"y":6.43},{"x":2.01,"y":5.19},{"x":2.11,"y":5.34},{"x":1.79,"y":3.53},{"x":1.69,"y":2.55},{"x":1.82,"y":2.5},{"x":1.59,"y":2.32},{"x":1.72,"y":3.08},{"x":2.23,"y":7.6},{"x":2.36,"y":7.68},{"x":2.73,"y":7.45},{"x":2.79,"y":7.27},
{"x":2.31,"y":11.1},{"x":2.5,"y":11.05},{"x":2.66,"y":11},{"x":2.83,"y":11},{"x":2.27,"y":10.5},{"x":2.44,"y":10.45},{"x":2.73,"y":10.5},{"x":2.89,"y":10.4},{"x":2.05,"y":10},{"x":2.21,"y":9.95},{"x":2.34,"y":9.9},{"x":2.57,"y":9.85},{"x":2.76,"y":10},{"x":2.14,"y":9.26},{"x":2.31,"y":8.96},{"x":2.44,"y":8.58},{"x":2.01,"y":8.58},{"x":2.18,"y":8.28},{"x":2.31,"y":7.98},{"x":2.5,"y":7.68},{"x":1.98,"y":7.6},{"x":2.08,"y":7.3},{"x":1.92,"y":6.85},{"x":2.01,"y":6.39},{"x":2.11,"y":6.02},{"x":1.85,"y":5.64},{"x":1.95,"y":5.49},{"x":1.85,"y":4.89},{"x":1.88,"y":4.58},{"x":1.66,"y":4.43},{"x":1.72,"y":3.98},{"x":1.66,"y":3.38},{"x":1.72,"y":3},{"x":1.53,"y":2.47},{"x":1.62,"y":2.25},
{"x":1.98,"y":14.84},{"x":2.14,"y":14.77},{"x":2.31,"y":14.99},{"x":2.44,"y":15.29},{"x":2.57,"y":14.99},{"x":2.05,"y":14.24},{"x":2.18,"y":14.39},{"x":2.37,"y":14.31},{"x":2.57,"y":14.54},{"x":2.63,"y":14.09},{"x":2.05,"y":13.63},{"x":2.24,"y":13.48},{"x":2.44,"y":13.63},{"x":2.6,"y":13.79},{"x":1.92,"y":13.18},{"x":2.11,"y":13.11},{"x":2.27,"y":13.18},{"x":1.98,"y":12.58},{"x":2.21,"y":12.66},{"x":2.37,"y":12.43},{"x":1.98,"y":11.98},{"x":2.18,"y":12.13},{"x":2.37,"y":11.82},{"x":2.57,"y":12.2},{"x":2.05,"y":11.37},{"x":2.24,"y":11.45},{"x":2.44,"y":11.3},{"x":2.63,"y":11.67},
{"x":1.71,"y":20.27},{"x":2.23,"y":20.65},{"x":2.68,"y":20.68},{"x":1.51,"y":19.44},{"x":1.5,"y":19.14},{"x":1.92,"y":19.29},{"x":2.1,"y":19.11},{"x":3.18,"y":19.04},{"x":0.86,"y":18.94},{"x":2.29,"y":18.91},{"x":2.83,"y":18.94},{"x":2.76,"y":18.69},{"x":3.12,"y":18.69},{"x":1.43,"y":18.69},{"x":1.67,"y":18.73},{"x":1.77,"y":18.58},{"x":2.21,"y":18.43},{"x":2.52,"y":18.43},{"x":1.22,"y":18.31},{"x":1.3,"y":18.36},{"x":1.46,"y":18.24},{"x":1.53,"y":18.01},{"x":1.72,"y":18.24},{"x":1.84,"y":18.01},{"x":2.63,"y":18.09},{"x":2.76,"y":18.31},{"x":2.89,"y":18.38},{"x":0.83,"y":18.09},{"x":0.97,"y":17.93},{"x":1.04,"y":17.71},{"x":1.2,"y":17.88},{"x":2.18,"y":17.98},{"x":2.27,"y":17.93},{"x":2.4,"y":17.86},{"x":2.24,"y":17.52},{"x":1.66,"y":17.78},{"x":1.75,"y":17.63},{"x":1.69,"y":17.48},{"x":3.01,"y":17.52},{"x":1.22,"y":17.48},{"x":1.33,"y":17.33},{"x":1.46,"y":17.22},{"x":1.27,"y":17.1},{"x":1.41,"y":16.95},{"x":0.94,"y":17.13},{"x":1.92,"y":17.18},{"x":2.01,"y":17.1},{"x":2.18,"y":17.03},{"x":2.37,"y":17.03},{"x":2.5,"y":17.18},{"x":2.6,"y":17.22},{"x":2.73,"y":17.13},{"x":3.14,"y":16.98},{"x":1.85,"y":16.88},{"x":1.98,"y":16.68},{"x":1.17,"y":16.65},{"x":1.36,"y":16.73},{"x":2.44,"y":16.62},{"x":0.93,"y":16.35},{"x":1.1,"y":16.12},{"x":0.91,"y":15.93},{"x":1.36,"y":16.27},{"x":1.62,"y":16.31},{"x":1.82,"y":16.27},{"x":2.57,"y":16.24},{"x":2.86,"y":16.24},{"x":3.25,"y":16},{"x":1.07,"y":15.9},{"x":1.17,"y":15.78},{"x":1.66,"y":15.82},{"x":1.77,"y":15.75},{"x":1.64,"y":15.52},{"x":2.14,"y":15.93},{"x":2.16,"y":15.67},{"x":2.42,"y":15.93},{"x":2.76,"y":15.93},{"x":2.75,"y":15.62},{"x":3.12,"y":15.67},{"x":3.27,"y":15.71},{"x":0.72,"y":15.37},{"x":0.58,"y":15.07},{"x":2.4,"y":15.52},{"x":3.61,"y":15.44},{"x":2.99,"y":15.07},{"x":3.22,"y":15.14},{"x":3.31,"y":14.91},{"x":2.73,"y":14.91},{"x":2.83,"y":14.68},{"x":3.09,"y":14.23},{"x":2.99,"y":13.79},{"x":3.18,"y":13.63},{"x":2.76,"y":13.48},{"x":2.83,"y":13.1},{"x":2.92,"y":12.96},{"x":3.09,"y":12.88},{"x":2.57,"y":13.03},{"x":2.76,"y":12.58},{"x":2.96,"y":12.5},{"x":3.15,"y":12.5},{"x":2.6,"y":12.28},{"x":2.8,"y":12.05},{"x":2.99,"y":11.9},{"x":3.09,"y":11.67},{"x":3.25,"y":11.52},{"x":2.86,"y":11.3},{"x":3.28,"y":11.07},
{"x":0.95,"y":15.45},{"x":1.25,"y":15.4},{"x":1.5,"y":15.25},{"x":1.3,"y":15.85},{"x":1.5,"y":16},{"x":1.25,"y":16.45},{"x":1.6,"y":16.6},
{"x":0.75,"y":16},{"x":0.85,"y":16.6},{"x":1.05,"y":16.9},{"x":1.55,"y":17},{"x":1.8,"y":17.4},{"x":1.95,"y":17.8},{"x":2.05,"y":18.3},{"x":1.6,"y":18.5},{"x":1.9,"y":18.7},{"x":2.35,"y":19.3},{"x":1.3,"y":19.6},{"x":2,"y":16},{"x":2.25,"y":16.3},{"x":1.9,"y":15.4},{"x":2.1,"y":15.1},{"x":0.9,"y":15.05}
]
},
"encoding":{
"x":{"field":"x","type":"quantitative","scale":{"domain":[-5.4,10.27],"nice":false,"zero":false},
"axis":{"title":"log2(fold change)","values":[-4,-2,0,2,4,6,8,10],"labelExpr":"toString(datum.value)","grid":false,"domainColor":"#6b6b6b","domainWidth":1.5,"tickColor":"#6b6b6b","tickWidth":1.5,"tickSize":11,"labelFontSize":23,"labelFont":"Liberation Sans","labelColor":"#000000","labelPadding":11,"labelFlush":false,"titleFontSize":35,"titleFont":"Liberation Sans","titleFontWeight":"bold","titleColor":"#000000","titlePadding":30}},
"y":{"field":"y","type":"quantitative","scale":{"domain":[-0.5,28.05],"nice":false,"zero":false},
"axis":{"title":"-log10(P-value)","values":[0,5,10,15,20,25],"grid":false,"domainColor":"#6b6b6b","domainWidth":1.5,"tickColor":"#6b6b6b","tickWidth":1.5,"tickSize":10,"labelFontSize":23,"labelFont":"Liberation Sans","labelColor":"#000000","labelPadding":3,"labelFlush":false,"titleFontSize":35,"titleFont":"Liberation Sans","titleFontWeight":"bold","titleColor":"#000000","titlePadding":32,"titleY":357}}
},
"layer":[
{"data":{"name":"ns"},"mark":{"type":"circle","size":62,"opacity":1,"color":"#5e5e5e"}},
{"data":{"name":"down"},"mark":{"type":"circle","size":62,"opacity":1,"color":"#00BFFF"}},
{"data":{"name":"up"},"mark":{"type":"circle","size":62,"opacity":1,"color":"#FF3030"}},
{"data":{"values":[{"x":7.31,"y":1.54,"t":"P"}]},"mark":{"type":"text","font":"Liberation Sans","fontSize":29,"fontStyle":"italic","align":"center","baseline":"middle","color":"#000000"},"encoding":{"text":{"field":"t"}}},
{"data":{"values":[{"x":7.49,"y":1.54,"t":"＜0.05"}]},"mark":{"type":"text","font":"Liberation Sans, Noto Sans CJK SC","fontSize":29,"align":"left","baseline":"middle","color":"#000000"},"encoding":{"text":{"field":"t"}}}
]
}
